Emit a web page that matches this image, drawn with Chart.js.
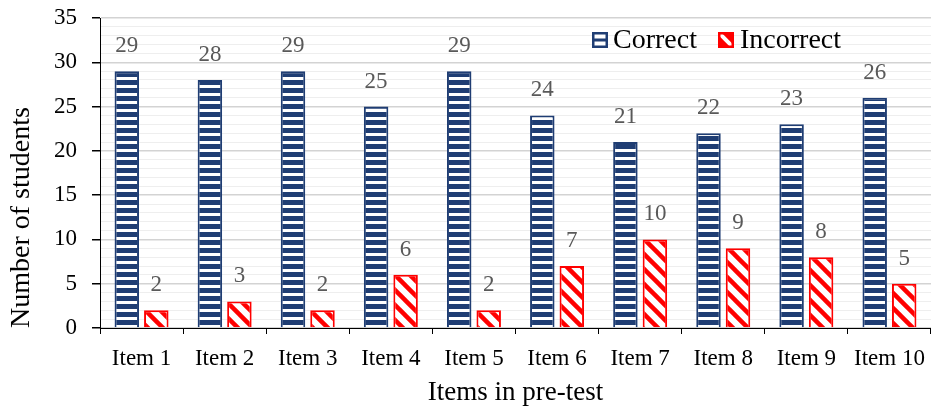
<!DOCTYPE html>
<html>
<head>
<meta charset="utf-8">
<script src="https://cdn.jsdelivr.net/npm/chart.js@4"></script>
<style>
  html, body { margin: 0; padding: 0; background: #ffffff; }
  #wrap { width: 931px; height: 414px; }
</style>
</head>
<body>
<div id="wrap"><canvas id="chart" width="931" height="414"></canvas></div>
<script>
// Pre-test results per item
const categories = ['Item 1', 'Item 2', 'Item 3', 'Item 4', 'Item 5', 'Item 6', 'Item 7', 'Item 8', 'Item 9', 'Item 10'];
const correctValues = [29, 28, 29, 25, 29, 24, 21, 22, 23, 26];
const incorrectValues = [2, 3, 2, 6, 2, 7, 10, 9, 8, 5];
const seriesNames = ['Correct', 'Incorrect'];
const yTickValues = [0, 5, 10, 15, 20, 25, 30, 35];

const SERIF = '"Liberation Serif", "Times New Roman", serif';
const NAVY = '#1f3d73';
const RED = '#ff0000';

// Horizontal stripe fill for the "Correct" bars
function stripePattern() {
  const c = document.createElement('canvas');
  c.width = 8; c.height = 8;
  const g = c.getContext('2d');
  g.fillStyle = '#ffffff';
  g.fillRect(0, 0, 8, 8);
  g.fillStyle = NAVY;
  g.fillRect(0, 0, 8, 5);
  return g.createPattern(c, 'repeat');
}

// Downward diagonal stripe fill for the "Incorrect" bars
function diagonalPattern() {
  const s = 15;
  const c = document.createElement('canvas');
  c.width = s; c.height = s;
  const g = c.getContext('2d');
  g.fillStyle = '#ffffff';
  g.fillRect(0, 0, s, s);
  g.strokeStyle = RED;
  g.lineWidth = 4.5;
  for (let k = -1; k <= 1; k++) {
    g.beginPath();
    g.moveTo(-2, -2 + k * s);
    g.lineTo(s + 2, s + 2 + k * s);
    g.stroke();
  }
  return g.createPattern(c, 'repeat');
}

// Value labels above each bar
const valueLabels = {
  id: 'valueLabels',
  afterDatasetsDraw(chart) {
    const ctx = chart.ctx;
    ctx.save();
    ctx.font = '23px ' + SERIF;
    ctx.fillStyle = '#595959';
    ctx.textAlign = 'center';
    ctx.textBaseline = 'alphabetic';
    chart.data.datasets.forEach((ds, i) => {
      chart.getDatasetMeta(i).data.forEach((bar, j) => {
        ctx.fillText(String(ds.data[j]), bar.x, bar.y - 19);
      });
    });
    ctx.restore();
  }
};

// Legend inside the plot, upper right
const insideLegend = {
  id: 'insideLegend',
  afterDraw(chart) {
    const ctx = chart.ctx;
    ctx.save();
    ctx.font = '28px ' + SERIF;
    ctx.textBaseline = 'alphabetic';
    const top = 32, size = 16, base = 48;
    // Correct
    let x = 592;
    ctx.fillStyle = '#ffffff';
    ctx.fillRect(x, top, size, size);
    ctx.strokeStyle = NAVY;
    ctx.lineWidth = 2.5;
    ctx.strokeRect(x + 1.25, top + 1.25, size - 2.5, size - 2.5);
    ctx.fillStyle = NAVY;
    ctx.fillRect(x, top + size / 2 - 1.5, size, 3);
    ctx.fillStyle = '#000000';
    ctx.fillText(chart.data.datasets[0].label, 613, base);
    // Incorrect
    x = 718;
    ctx.fillStyle = RED;
    ctx.fillRect(x, top, size, size);
    ctx.save();
    ctx.beginPath();
    ctx.rect(x + 2.5, top + 2.5, size - 5, size - 5);
    ctx.clip();
    ctx.strokeStyle = '#ffffff';
    ctx.lineWidth = 4;
    ctx.beginPath();
    ctx.moveTo(x, top);
    ctx.lineTo(x + size, top + size);
    ctx.stroke();
    ctx.restore();
    ctx.fillStyle = '#000000';
    ctx.fillText(chart.data.datasets[1].label, 740, base);
    ctx.restore();
  }
};

new Chart(document.getElementById('chart'), {
  type: 'bar',
  data: {
    labels: categories,
    datasets: [
      {
        label: seriesNames[0],
        data: correctValues,
        backgroundColor: stripePattern(),
        borderColor: NAVY,
        borderWidth: 2,
        categoryPercentage: 0.71,
        barPercentage: 0.83
      },
      {
        label: seriesNames[1],
        data: incorrectValues,
        backgroundColor: diagonalPattern(),
        borderColor: RED,
        borderWidth: 2,
        categoryPercentage: 0.71,
        barPercentage: 0.83
      }
    ]
  },
  options: {
    responsive: false,
    animation: false,
    layout: { padding: { top: 18, right: -2, left: 0, bottom: 0 } },
    plugins: {
      legend: { display: false },
      tooltip: { enabled: false }
    },
    scales: {
      x: {
        grid: {
          offset: true,
          drawOnChartArea: false,
          tickLength: 6,
          tickColor: '#000000'
        },
        border: { color: '#000000', width: 1 },
        ticks: {
          color: '#000000',
          font: { family: SERIF, size: 23 },
          padding: 11,
          maxRotation: 0
        },
        title: {
          display: true,
          text: 'Items in pre-test',
          color: '#000000',
          font: { family: SERIF, size: 27 },
          padding: { top: 0, bottom: 5 }
        },
        afterFit(scale) {
          scale.height = 86;
          scale.paddingLeft = 0;
          scale.paddingRight = 0;
        }
      },
      y: {
        min: 0,
        max: 35,
        ticks: {
          stepSize: 1,
          autoSkip: false,
          color: '#000000',
          font: { family: SERIF, size: 23 },
          padding: 15,
          callback: (v) => (yTickValues.includes(v) ? String(v) : '')
        },
        grid: {
          tickLength: 8,
          color: (c) => (c.tick && c.tick.value % 5 === 0 ? '#d3d3d3' : '#eeeeee'),
          tickColor: (c) => (c.tick && c.tick.value % 5 === 0 ? '#000000' : 'rgba(0,0,0,0)'),
          lineWidth: (c) => (c.tick && c.tick.value % 5 === 0 ? 1.5 : 1)
        },
        border: { color: '#000000', width: 1 },
        title: {
          display: true,
          text: 'Number of students',
          align: 'start',
          color: '#000000',
          font: { family: SERIF, size: 28 },
          padding: { top: 5, bottom: 0 }
        },
        afterFit(scale) {
          scale.width = 100;
          scale.paddingTop = 0;
          scale.paddingBottom = 0;
        }
      }
    }
  },
  plugins: [valueLabels, insideLegend]
});
</script>
</body>
</html>
